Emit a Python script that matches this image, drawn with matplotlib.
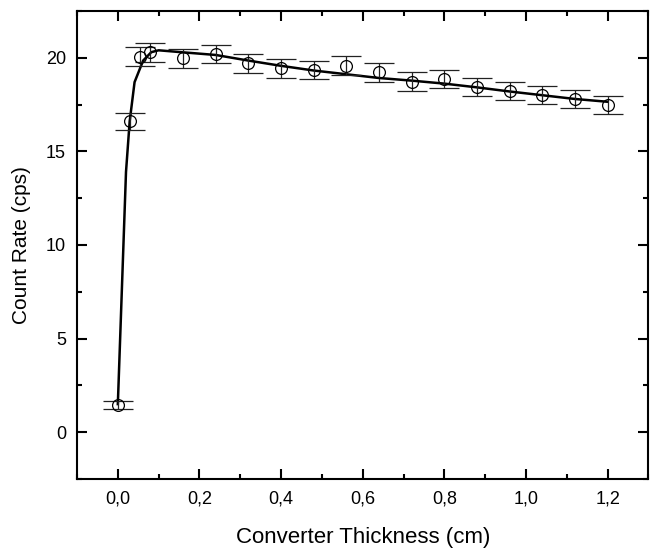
import matplotlib
matplotlib.use("Agg")
import matplotlib.pyplot as plt
from matplotlib.ticker import MultipleLocator, FuncFormatter

# measured count rate vs converter thickness
thickness = [0.0, 0.03, 0.055, 0.08, 0.16, 0.24, 0.32, 0.40, 0.48, 0.56,
             0.64, 0.72, 0.80, 0.88, 0.96, 1.04, 1.12, 1.20]
count_rate = [1.45, 16.6, 20.05, 20.3, 19.98, 20.2, 19.7, 19.43, 19.35, 19.57,
              19.22, 18.72, 18.87, 18.46, 18.23, 17.99, 17.78, 17.5]
count_err = [0.2, 0.45, 0.5, 0.5, 0.5, 0.5, 0.5, 0.5, 0.5, 0.5,
             0.5, 0.5, 0.5, 0.48, 0.48, 0.48, 0.48, 0.48]

# fitted curve
fit_x = [0.0, 0.02, 0.029, 0.041, 0.062, 0.082, 0.10, 0.155, 0.24, 0.32, 0.40,
         0.48, 0.56, 0.64, 0.72, 0.80, 0.88, 0.96, 1.04, 1.12, 1.20]
fit_y = [1.5, 13.9, 16.6, 18.7, 19.85, 20.3, 20.4, 20.3, 20.15, 19.85, 19.57,
         19.32, 19.12, 18.92, 18.78, 18.62, 18.42, 18.2, 18.0, 17.8, 17.65]

plt.rcParams["font.family"] = ["Liberation Sans", "DejaVu Sans"]

fig = plt.figure(figsize=(6.5, 5.49), dpi=100)
ax = fig.add_axes([0.1185, 0.1275, 0.879, 0.8525])

ax.plot(fit_x, fit_y, color="black", linewidth=1.8, zorder=2)
ax.errorbar(thickness, count_rate, yerr=count_err, fmt="o", mfc="none",
            mec="black", ms=8.5, mew=0.9, ecolor="#222222", elinewidth=0.9,
            capsize=11, capthick=0.9, zorder=3)

ax.set_xlim(-0.1, 1.3)
ax.set_ylim(-2.5, 22.5)
ax.xaxis.set_major_locator(MultipleLocator(0.2))
ax.xaxis.set_minor_locator(MultipleLocator(0.1))
ax.yaxis.set_major_locator(MultipleLocator(5))
ax.yaxis.set_minor_locator(MultipleLocator(2.5))
ax.xaxis.set_major_formatter(FuncFormatter(lambda v, p: f"{v:.1f}".replace(".", ",")))

ax.tick_params(which="both", direction="in", top=True, right=True, width=1.5)
ax.tick_params(which="major", length=7, labelsize=13, pad=8)
ax.tick_params(which="minor", length=3.5)
for s in ax.spines.values():
    s.set_linewidth(1.5)

ax.set_xlabel("Converter Thickness (cm)", fontsize=16, labelpad=14)
ax.set_ylabel("Count Rate (cps)", fontsize=15, labelpad=11)

fig.savefig("out.png", dpi=100)
